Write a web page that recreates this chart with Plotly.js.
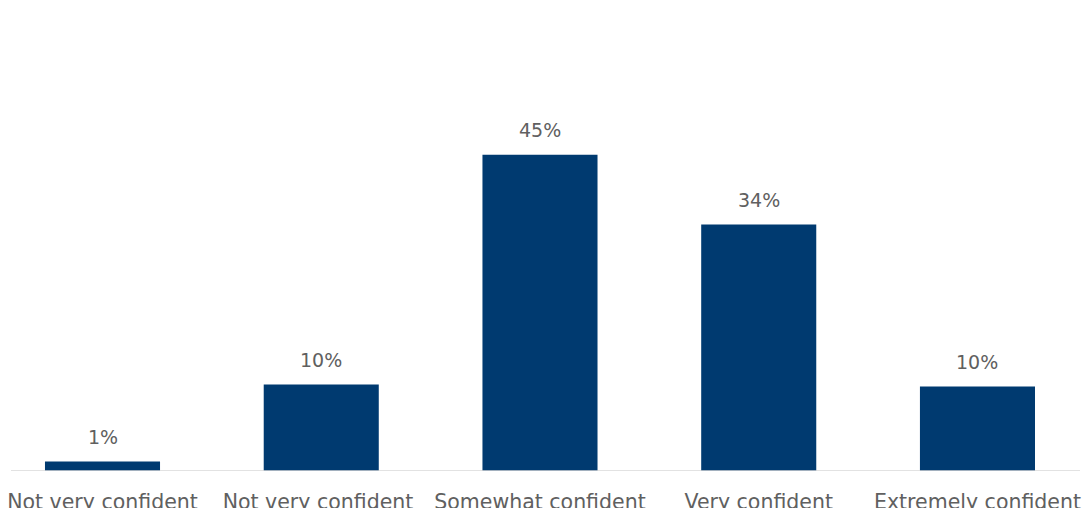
<!DOCTYPE html>
<html>
<head>
<meta charset="utf-8">
<script src="https://cdn.plot.ly/plotly-3.0.1.min.js"></script>
<style>html,body{margin:0;padding:0;background:#fff;}#chart{width:1084px;height:508px;}</style>
</head>
<body>
<div id="chart"></div>
<script>
const categories = ["Not very confident", "Not very confident ", "Somewhat confident", "Very confident", "Extremely confident"];
const values = [1.35, 12.3, 45, 35.06, 12.02];
const valueLabels = ["1%", "10%", "45%", "34%", "10%"];

const barColor = "#003A70";
const textColor = "#606060";
const fontFamily = "DejaVu Sans, sans-serif";

const trace = {
  type: "bar",
  x: categories,
  y: values,
  marker: {color: barColor},
  width: 0.526,
  hoverinfo: "skip"
};

const annotations = categories.map((c, i) => ({
  x: c, y: values[i], xref: "x", yref: "y",
  text: valueLabels[i], showarrow: false,
  yanchor: "bottom", yshift: 12,
  font: {family: fontFamily, size: 19, color: textColor}
}));

const layout = {
  width: 1084, height: 508,
  margin: {l: 0, r: 0, t: 0, b: 37},
  paper_bgcolor: "#fff", plot_bgcolor: "#fff",
  showlegend: false,
  xaxis: {
    type: "category",
    range: [-0.4686, 4.487],
    showline: false, showgrid: false, zeroline: false,
    ticks: "", ticklabelstandoff: 16,
    tickfont: {family: fontFamily, size: 20.5, color: textColor},
    fixedrange: true
  },
  yaxis: {
    range: [0, 67],
    showline: false, showgrid: false, zeroline: false,
    showticklabels: false, ticks: "",
    fixedrange: true
  },
  shapes: [{
    type: "line", xref: "paper", yref: "y",
    x0: 11/1084, x1: 1080/1084, y0: 0, y1: 0,
    line: {color: "#D9D9D9", width: 1.5}
  }],
  annotations: annotations
};

Plotly.newPlot("chart", [trace], layout, {displayModeBar: false, staticPlot: true});
</script>
</body>
</html>
